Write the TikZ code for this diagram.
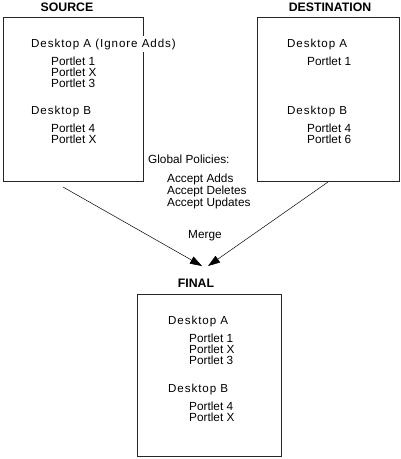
\documentclass[tikz,border=0pt]{standalone}
\usepackage{fontspec}
\setmainfont{Liberation Sans}
\newfontfamily\deskfont[LetterSpace=8]{Liberation Sans}
\usetikzlibrary{arrows.meta}
\begin{document}
\begin{tikzpicture}
[x=1pt,y=-1pt,
  boxdecorate/.style={shape=rectangle,draw=black!85,line width=0.9pt,inner sep=0pt},%
  titledecorate/.style={anchor=base,inner sep=0pt,font=\fontsize{12.3}{12}\selectfont\bfseries},%
  deskdecorate/.style={anchor=base west,inner sep=0pt,font=\fontsize{11.6}{11.6}\deskfont},%
  itemdecorate/.style={anchor=base west,inner sep=0pt,font=\fontsize{11.8}{11.8}\selectfont},%
  linedecorate/.style={-{Triangle[length=12pt,width=8pt]},line width=0.5pt}]
\useasboundingbox (0,0) rectangle (401,459);
%% boxes
\node (src) at (73,99) [boxdecorate,minimum width=140,minimum height=164] {};
\node (dst) at (328,99) [boxdecorate,minimum width=142,minimum height=164] {};
\node (fin) at (209,375) [boxdecorate,minimum width=144,minimum height=162] {};
%% titles
\node (srctitle) at (67,11) [titledecorate] {SOURCE};
\node (dsttitle) at (330,11) [titledecorate] {DESTINATION};
\node (fintitle) at (196,287) [titledecorate] {FINAL};
%% source desktops
\node (srcdeska) at (31,47) [deskdecorate,fill=white,inner ysep=3pt] {Desktop A (Ignore Adds)};
\node (srcp1) at (51,65) [itemdecorate] {Portlet 1};
\node (srcp2) at (51,76) [itemdecorate] {Portlet X};
\node (srcp3) at (51,87) [itemdecorate] {Portlet 3};
\node (srcdeskb) at (31,114) [deskdecorate] {Desktop B};
\node (srcp4) at (51,132) [itemdecorate] {Portlet 4};
\node (srcp5) at (51,143) [itemdecorate] {Portlet X};
%% destination desktops
\node (dstdeska) at (287,47) [deskdecorate] {Desktop A};
\node (dstp1) at (307,65) [itemdecorate] {Portlet 1};
\node (dstdeskb) at (287,114) [deskdecorate] {Desktop B};
\node (dstp4) at (307,132) [itemdecorate] {Portlet 4};
\node (dstp6) at (307,143) [itemdecorate] {Portlet 6};
%% policies
\node (pol) at (148,163) [itemdecorate] {Global Policies:};
\node (pol1) at (167,182) [itemdecorate] {Accept Adds};
\node (pol2) at (167,194) [itemdecorate] {Accept Deletes};
\node (pol3) at (167,206) [itemdecorate] {Accept Updates};
\node (merge) at (188,238) [itemdecorate] {Merge};
%% final desktops
\node (findeska) at (168,324) [deskdecorate] {Desktop A};
\node (finp1) at (189,342) [itemdecorate] {Portlet 1};
\node (finp2) at (189,353) [itemdecorate] {Portlet X};
\node (finp3) at (189,364) [itemdecorate] {Portlet 3};
\node (findeskb) at (168,392) [deskdecorate] {Desktop B};
\node (finp4) at (189,410) [itemdecorate] {Portlet 4};
\node (finp5) at (189,421) [itemdecorate] {Portlet X};
%% arrow ends
\coordinate (srcfoot) at (63,187);
\coordinate (dstfoot) at (328,182);
\coordinate (leftend) at (202,266);
\coordinate (rightend) at (208,266);
%% edges or lines
\path
(srcfoot) edge[linedecorate] (leftend)
(dstfoot) edge[linedecorate] (rightend);
\end{tikzpicture}
\end{document}
